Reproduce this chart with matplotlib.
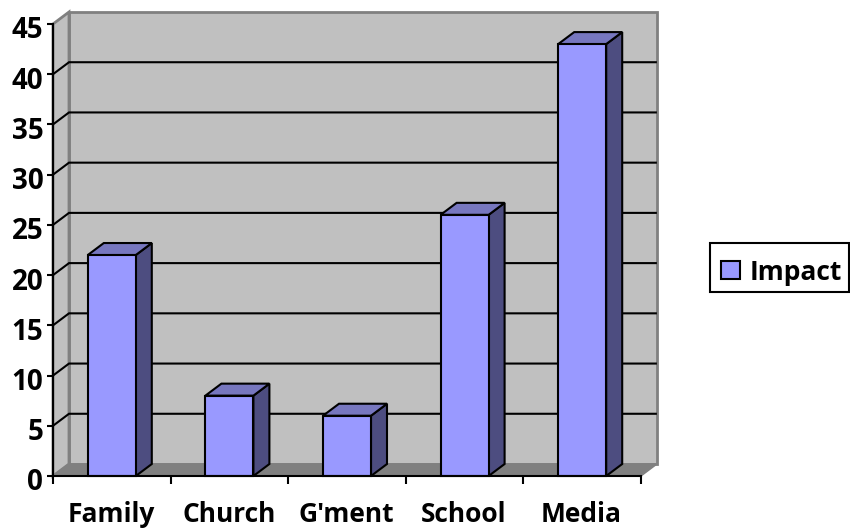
import matplotlib.pyplot as plt
from matplotlib.patches import Patch, Rectangle
from matplotlib.transforms import ScaledTranslation

plt.rcParams['font.family'] = ['Open Sans', 'DejaVu Sans']

# Values
categories = ['Family', 'Church', "G'ment", 'School', 'Media']
impact = [22, 8, 6, 26, 43]
y_ticks = [0, 5, 10, 15, 20, 25, 30, 35, 40, 45]

W, H = 850, 529
fig = plt.figure(figsize=(W / 100, H / 100), dpi=100)

# Axes covers the front plane of the fake 3D box
left, right, bottom, top = 53, 641, 476, 24
ax = fig.add_axes([left / W, 1 - bottom / H, (right - left) / W, (bottom - top) / H])
ax.set_xlim(0, len(categories))
ax.set_ylim(0, 45)
ax.patch.set_visible(False)

# Depth of the box and the bars, in data units
dx = 16 / ((right - left) / len(categories))
dy = 12 / ((bottom - top) / 45)
n = len(categories)
grey = '#808080'

# Walls and floor
ax.fill([dx, n + dx, n + dx, dx], [dy, dy, 45 + dy, 45 + dy], facecolor='#c0c0c0',
        edgecolor=grey, linewidth=2, clip_on=False, zorder=1)
ax.fill([0, dx, dx, 0], [0, dy, 45 + dy, 45], facecolor='#c0c0c0',
        edgecolor=grey, linewidth=2, clip_on=False, zorder=1)
ax.fill([0, n, n + dx, dx], [0, 0, dy, dy], facecolor=grey,
        edgecolor=grey, linewidth=1, clip_on=False, zorder=1)

# Gridlines on the back wall and the side wall
for t in y_ticks[1:-1]:
    ax.plot([0, dx, n + dx - 0.01], [t, t + dy, t + dy], color='black', linewidth=1.5,
            clip_on=False, solid_joinstyle='miter', zorder=2)

# Bars: front face, side and top
bar_w = 48 / ((right - left) / len(categories))
for i, v in enumerate(impact):
    x0 = i + 0.5 - bar_w / 2
    x1 = x0 + bar_w
    ax.fill([x1, x1 + dx, x1 + dx, x1], [0, dy, v + dy, v], facecolor='#4d4d80',
            edgecolor='black', linewidth=1.5, clip_on=False, zorder=3)
    ax.fill([x0, x1, x1 + dx, x0 + dx], [v, v, v + dy, v + dy], facecolor='#7777bf',
            edgecolor='black', linewidth=1.5, clip_on=False, zorder=3)
ax.bar([i + 0.5 for i in range(n)], impact, width=bar_w, color='#9999ff',
       edgecolor='black', linewidth=1.5, clip_on=False, zorder=4)

# Axes lines and ticks
ax.spines['top'].set_visible(False)
ax.spines['right'].set_visible(False)
for side in ['left', 'bottom']:
    ax.spines[side].set_linewidth(1.5)
    ax.spines[side].set_zorder(5)
ax.set_yticks(y_ticks)
ax.set_xticks(range(n + 1))
ax.set_xticklabels([])
ax.tick_params(axis='y', length=4, width=1.5, pad=3, labelsize=20)
ax.tick_params(axis='x', length=6, width=1.5)
shift = ScaledTranslation(0, -2.5 / 72, fig.dpi_scale_trans)
for label in ax.get_yticklabels():
    label.set_fontweight('bold')
    label.set_transform(label.get_transform() + shift)
for i, name in enumerate(categories):
    ax.annotate(name, (i + 0.5, 0), xytext=(-0.5, -18), textcoords='offset points',
                ha='center', va='top', fontsize=19, fontweight='bold', annotation_clip=False)

# Legend: the box sits higher than its contents, so it is drawn apart
fig.add_artist(Rectangle((709.5 / W, 1 - 292 / H), 139 / W, 49 / H, transform=fig.transFigure,
                         facecolor='white', edgecolor='black', linewidth=1.5))
swatch = Patch(facecolor='#9999ff', edgecolor='black', linewidth=1.5, label='Impact')
fig.legend(handles=[swatch], loc='center left', bbox_to_anchor=(721 / W, 1 - 272 / H),
           frameon=False, handlelength=0.72, handleheight=0.68, handletextpad=0.38,
           borderpad=0, borderaxespad=0, prop={'size': 19, 'weight': 'bold'})

fig.savefig('out.png', dpi=100)
